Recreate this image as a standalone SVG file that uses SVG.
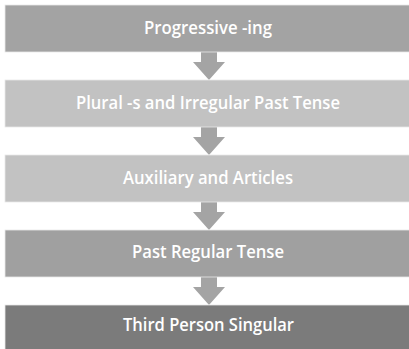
<svg xmlns="http://www.w3.org/2000/svg" width="409" height="349" viewBox="0 0 409 349">
  <style>
    .box { stroke: #e8e8e8; stroke-width: 0.8; }
    .lbl { font-family: "Open Sans", "Liberation Sans", sans-serif; font-size: 18px; font-weight: 600; fill: #ffffff; text-anchor: middle; }
    .arrow { fill: #a4a4a4; }
  </style>
  <rect width="409" height="349" fill="#ffffff"/>
  <g id="connectors">
    <polygon class="arrow" points="201,52 217,52 217,62 225,62 209,80 193,62 201,62"/>
    <polygon class="arrow" points="201,127 217,127 217,137 225,137 209,155 193,137 201,137"/>
    <polygon class="arrow" points="201,202 217,202 217,212 225,212 209,230 193,212 201,212"/>
    <polygon class="arrow" points="201,277 217,277 217,287 225,287 209,305 193,287 201,287"/>
  </g>
  <g id="node1">
    <rect class="box" x="5" y="5" width="406" height="47" fill="#a3a3a3"/>
    <text class="lbl" x="208" y="34" textLength="128" lengthAdjust="spacingAndGlyphs">Progressive -ing</text>
  </g>
  <g id="node2">
    <rect class="box" x="5" y="80" width="406" height="47" fill="#c2c2c2"/>
    <text class="lbl" x="208" y="109" textLength="264" lengthAdjust="spacingAndGlyphs">Plural -s and Irregular Past Tense</text>
  </g>
  <g id="node3">
    <rect class="box" x="5" y="155" width="406" height="47" fill="#c2c2c2"/>
    <text class="lbl" x="208" y="183.5" textLength="170" lengthAdjust="spacingAndGlyphs">Auxiliary and Articles</text>
  </g>
  <g id="node4">
    <rect class="box" x="5" y="230" width="406" height="47" fill="#a0a0a0"/>
    <text class="lbl" x="208" y="257.5" textLength="152" lengthAdjust="spacingAndGlyphs">Past Regular Tense</text>
  </g>
  <g id="node5">
    <rect class="box" x="5" y="305" width="406" height="47" fill="#7b7b7b"/>
    <text class="lbl" x="208.5" y="331" textLength="171" lengthAdjust="spacingAndGlyphs">Third Person Singular</text>
  </g>
</svg>
